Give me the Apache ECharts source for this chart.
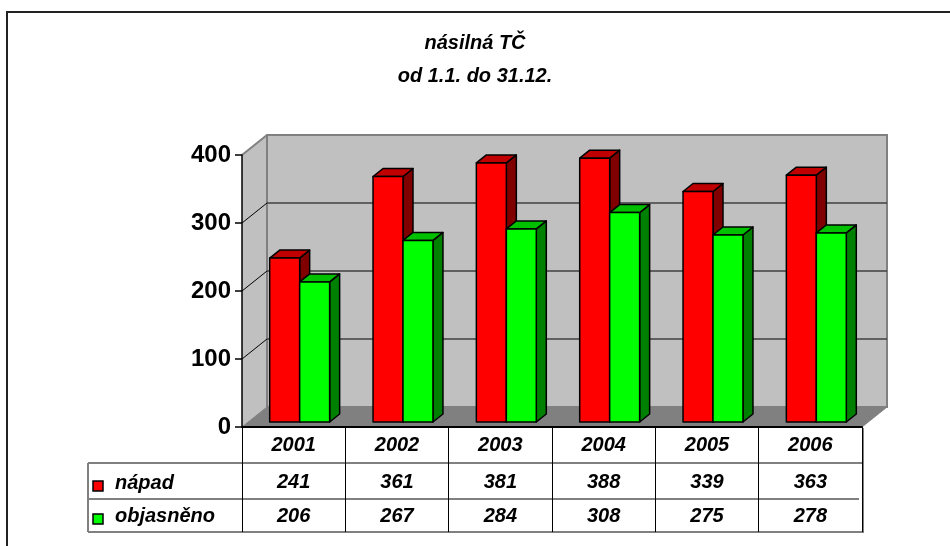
<!DOCTYPE html>
<html><head><meta charset="utf-8">
<script src="https://cdn.jsdelivr.net/npm/echarts@6/dist/echarts.min.js"></script>
<style>html,body{margin:0;padding:0;background:#fff}#c{width:950px;height:546px}</style>
</head><body><div id="c"></div>
<script>
// ---- data ----
const categories = ['2001', '2002', '2003', '2004', '2005', '2006'];
const napad = [241, 361, 381, 388, 339, 363];
const objasneno = [206, 267, 284, 308, 275, 278];
const seriesNames = ['nápad', 'objasněno'];
const yTicks = [0, 100, 200, 300, 400];
const titleText = 'násilná TČ\nod 1.1. do 31.12.';

// ---- styling / layout ----
const FONT = '"Liberation Sans", Arial, sans-serif';
const WALL_D = [25, -20];   // depth of the walls
const BAR_OFF = [6, -5];    // bar front plane offset
const BAR_D = [10, -8];     // bar depth
const COLORS = [
  { front: '#ff0000', top: '#c00000', side: '#800000' },
  { front: '#00ff00', top: '#00c000', side: '#008000' }
];

function wallsRender(params, api) {
  const band = api.size([1, 0])[0];
  const x0 = api.coord([0, 0])[0] - band / 2;
  const x1 = api.coord([categories.length - 1, 0])[0] + band / 2;
  const yb = api.coord([0, yTicks[0]])[1];
  const yt = api.coord([0, yTicks[yTicks.length - 1]])[1];
  const dx = WALL_D[0], dy = WALL_D[1];
  const ch = [];
  ch.push({ type: 'polygon', shape: { points: [[x0, yt], [x0 + dx, yt + dy], [x0 + dx, yb + dy], [x0, yb]] },
    style: { fill: '#c0c0c0', stroke: null } });
  ch.push({ type: 'rect', shape: { x: x0 + dx, y: yt + dy, width: x1 - x0, height: yb - yt },
    style: { fill: '#c0c0c0', stroke: '#808080', lineWidth: 2 } });
  ch.push({ type: 'polygon', shape: { points: [[x0, yb], [x1, yb], [x1 + dx, yb + dy], [x0 + dx, yb + dy]] },
    style: { fill: '#808080', stroke: '#808080', lineWidth: 1 } });
  yTicks.forEach((v, i) => {
    const y = api.coord([0, v])[1];
    if (i > 0 && i < yTicks.length - 1) {
      ch.push({ type: 'line', shape: { x1: x0 + dx, y1: y + dy, x2: x1 + dx, y2: y + dy },
        style: { stroke: '#404040', lineWidth: 1.5 } });
    }
    if (i > 0) {
      ch.push({ type: 'line', shape: { x1: x0, y1: y, x2: x0 + dx, y2: y + dy },
        style: { stroke: i === yTicks.length - 1 ? '#808080' : '#000', lineWidth: i === yTicks.length - 1 ? 2 : 1 } });
    }
  });
  return { type: 'group', children: ch };
}

function barRender(sIdx) {
  return function (params, api) {
    const cat = api.value(0), v = api.value(1);
    const band = api.size([1, 0])[0];
    const c = api.coord([cat, 0]);
    const t = api.coord([cat, v]);
    const w = band * 0.29;
    const xl = c[0] + (sIdx === 0 ? -w : 0) + BAR_OFF[0];
    const xr = xl + w;
    const yb = c[1] + BAR_OFF[1];
    const yt = t[1] + BAR_OFF[1];
    const dx = BAR_D[0], dy = BAR_D[1];
    const col = COLORS[sIdx];
    const st = { stroke: '#000', lineWidth: 1.5, lineJoin: 'round' };
    return { type: 'group', children: [
      { type: 'polygon', shape: { points: [[xr, yt], [xr + dx, yt + dy], [xr + dx, yb + dy], [xr, yb]] },
        style: Object.assign({ fill: col.side }, st) },
      { type: 'polygon', shape: { points: [[xl, yt], [xr, yt], [xr + dx, yt + dy], [xl + dx, yt + dy]] },
        style: Object.assign({ fill: col.top }, st) },
      { type: 'rect', shape: { x: xl, y: yt, width: w, height: yb - yt },
        style: Object.assign({ fill: col.front }, st) }
    ] };
  };
}

function tableRender(params, api) {
  const band = api.size([1, 0])[0];
  const x0 = api.coord([0, 0])[0] - band / 2;
  const x1 = api.coord([categories.length - 1, 0])[0] + band / 2;
  const yb = api.coord([0, 0])[1];
  const r1 = yb + 36, r2 = yb + 72, r3 = yb + 105;
  const L = 88;
  const gray = { stroke: '#808080', lineWidth: 2 };
  const ch = [
    { type: 'line', shape: { x1: L, y1: r1, x2: x1, y2: r1 }, style: gray },
    { type: 'line', shape: { x1: L, y1: r2, x2: x1 - 3, y2: r2 }, style: gray },
    { type: 'line', shape: { x1: L, y1: r3, x2: x1 + 1, y2: r3 }, style: gray },
    { type: 'line', shape: { x1: L, y1: r1, x2: L, y2: r3 }, style: gray },
    { type: 'line', shape: { x1: x1 + 1.5, y1: yb + 1, x2: x1 + 1.5, y2: r3 + 1 }, style: { stroke: '#808080', lineWidth: 1 } }
  ];
  const rows = [[r1, 18, 20], [r2, 15, 17]];
  seriesNames.forEach((name, i) => {
    const r = rows[i];
    ch.push({ type: 'rect', shape: { x: L + 5, y: r[0] + r[1], width: 10, height: 10 },
      style: { fill: COLORS[i].front, stroke: '#000', lineWidth: 1.5 } });
    ch.push({ type: 'text', style: { text: name, x: L + 27, y: r[0] + r[2], fill: '#000',
      font: 'italic bold 20px ' + FONT, align: 'left', verticalAlign: 'middle' } });
  });
  return { type: 'group', children: ch };
}

const chart = echarts.init(document.getElementById('c'), null, { renderer: 'canvas' });
const labelBase = { color: '#000', fontFamily: FONT, fontSize: 20, fontWeight: 'bold', fontStyle: 'italic' };
chart.setOption({
  backgroundColor: '#fff',
  animation: false,
  title: {
    text: titleText, left: 'center', top: 22,
    textStyle: { color: '#000', fontFamily: FONT, fontSize: 20, fontWeight: 'bold', fontStyle: 'italic', lineHeight: 33 }
  },
  graphic: [{ type: 'rect', z: 100, shape: { x: 7, y: 12, width: 1000, height: 1000 },
    style: { fill: 'none', stroke: '#222', lineWidth: 2 } }],
  grid: { left: 242, top: 155, width: 620, height: 272, containLabel: false },
  xAxis: [
    { type: 'category', data: categories, position: 'bottom', z: 5,
      axisLine: { show: true, lineStyle: { color: '#000', width: 2 } },
      axisTick: { show: true, length: 105, lineStyle: { color: '#000', width: 1 } },
      axisLabel: Object.assign({ margin: 8 }, labelBase),
      splitLine: { show: false } },
    { type: 'category', data: categories, position: 'bottom', offset: 36, z: 5,
      axisLine: { show: false }, axisTick: { show: false },
      axisLabel: Object.assign({ margin: 9, formatter: (v, i) => String(napad[i]) }, labelBase) },
    { type: 'category', data: categories, position: 'bottom', offset: 72, z: 5,
      axisLine: { show: false }, axisTick: { show: false },
      axisLabel: Object.assign({ margin: 7, formatter: (v, i) => String(objasneno[i]) }, labelBase) }
  ],
  yAxis: {
    type: 'value', min: yTicks[0], max: yTicks[yTicks.length - 1], interval: 100, z: 5,
    axisLine: { show: true, lineStyle: { color: '#000', width: 1.5 } },
    axisTick: { show: true, length: 7, lineStyle: { color: '#000', width: 1.5 } },
    axisLabel: { margin: 11, color: '#000', fontFamily: FONT, fontSize: 24, fontWeight: 'bold' },
    splitLine: { show: false }
  },
  series: [
    { type: 'custom', name: 'walls', renderItem: wallsRender, data: [[0, 0]], encode: { x: 0, y: 1 }, z: 1, silent: true },
    { type: 'custom', name: seriesNames[0], renderItem: barRender(0), data: categories.map((c, i) => [i, napad[i]]), encode: { x: 0, y: 1 }, z: 2 },
    { type: 'custom', name: seriesNames[1], renderItem: barRender(1), data: categories.map((c, i) => [i, objasneno[i]]), encode: { x: 0, y: 1 }, z: 3 },
    { type: 'custom', name: 'table', renderItem: tableRender, data: [[0, 0]], encode: { x: 0, y: 1 }, z: 4, silent: true }
  ]
});
</script></body></html>
